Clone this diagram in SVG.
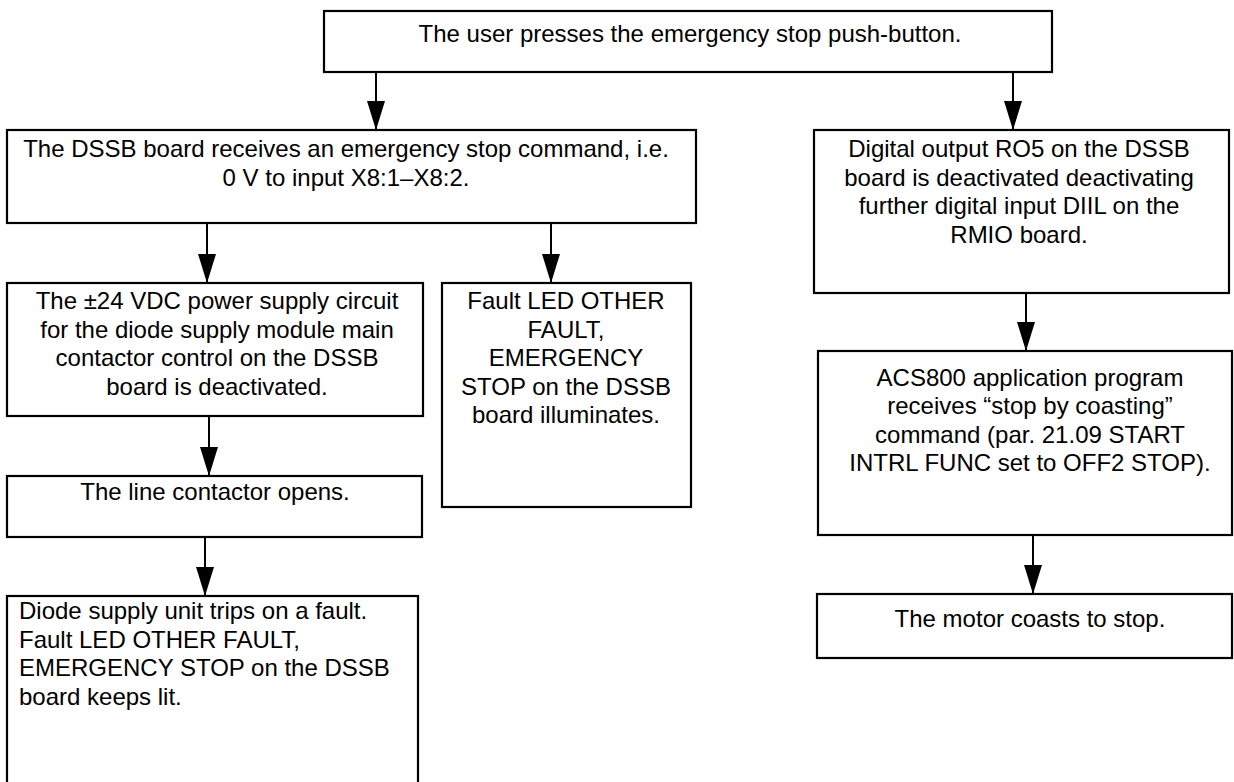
<svg xmlns="http://www.w3.org/2000/svg" width="1234" height="782" viewBox="0 0 1234 782">
<defs>
<style>
.box{fill:#fff;stroke:#000;stroke-width:2.2}
.t{font-family:"Liberation Sans",Arial,sans-serif;font-size:24px;fill:#000;text-anchor:middle}
.l{text-anchor:start}
.c{stroke:#000;stroke-width:2;fill:none;marker-end:url(#ah)}
</style>
<marker id="ah" viewBox="0 0 29 18" refX="29" refY="9" markerWidth="29" markerHeight="18" markerUnits="userSpaceOnUse" orient="auto">
<path d="M0,0 L29,9 L0,18 z" fill="#000"/>
</marker>
</defs>
<rect width="1234" height="782" fill="#fff"/>
<g id="connectors">
<line class="c" x1="376" y1="72" x2="376" y2="130"/>
<line class="c" x1="1013" y1="72" x2="1013" y2="130"/>
<line class="c" x1="207" y1="223" x2="207" y2="283"/>
<line class="c" x1="551" y1="223" x2="551" y2="283"/>
<line class="c" x1="209" y1="416" x2="209" y2="476"/>
<line class="c" x1="205" y1="537" x2="205" y2="596"/>
<line class="c" x1="1026" y1="293" x2="1026" y2="351"/>
<line class="c" x1="1033" y1="535" x2="1033" y2="594"/>
</g>
<g id="n-start">
<rect class="box" x="324" y="11" width="728" height="61"/>
<text class="t" x="690" y="42">The user presses the emergency stop push-button.</text>
</g>
<g id="n-dssb">
<rect class="box" x="7" y="130" width="689" height="93"/>
<text class="t" x="346" y="157">The DSSB board receives an emergency stop command, i.e.</text>
<text class="t" x="346" y="185.5">0 V to input X8:1–X8:2.</text>
</g>
<g id="n-digital">
<rect class="box" x="814" y="130" width="415" height="163"/>
<text class="t" x="1019" y="157">Digital output RO5 on the DSSB</text>
<text class="t" x="1019" y="185.5">board is deactivated deactivating</text>
<text class="t" x="1019" y="214">further digital input DIIL on the</text>
<text class="t" x="1019" y="242.5">RMIO board.</text>
</g>
<g id="n-supply">
<rect class="box" x="7" y="283" width="416" height="133"/>
<text class="t" x="217" y="309">The ±24 VDC power supply circuit</text>
<text class="t" x="217" y="337.5">for the diode supply module main</text>
<text class="t" x="217" y="366">contactor control on the DSSB</text>
<text class="t" x="217" y="394.5">board is deactivated.</text>
</g>
<g id="n-faultled">
<rect class="box" x="442" y="283" width="249" height="224"/>
<text class="t" x="566" y="309">Fault LED OTHER</text>
<text class="t" x="566" y="337.5">FAULT,</text>
<text class="t" x="566" y="366">EMERGENCY</text>
<text class="t" x="566" y="394.5">STOP on the DSSB</text>
<text class="t" x="566" y="423">board illuminates.</text>
</g>
<g id="n-line">
<rect class="box" x="7" y="476" width="415" height="61"/>
<text class="t" x="215" y="500">The line contactor opens.</text>
</g>
<g id="n-diode">
<rect class="box" x="7" y="596" width="411" height="200"/>
<text class="t l" x="19" y="619">Diode supply unit trips on a fault.</text>
<text class="t l" x="19" y="647.5">Fault LED OTHER FAULT,</text>
<text class="t l" x="19" y="676">EMERGENCY STOP on the DSSB</text>
<text class="t l" x="19" y="704.5">board keeps lit.</text>
</g>
<g id="n-acs">
<rect class="box" x="818" y="351" width="414" height="184"/>
<text class="t" x="1030" y="385.5">ACS800 application program</text>
<text class="t" x="1030" y="414">receives “stop by coasting”</text>
<text class="t" x="1030" y="442.5">command (par. 21.09 START</text>
<text class="t" x="1030" y="471">INTRL FUNC set to OFF2 STOP).</text>
</g>
<g id="n-motor">
<rect class="box" x="817" y="594" width="415" height="64"/>
<text class="t" x="1030" y="627">The motor coasts to stop.</text>
</g>
</svg>
